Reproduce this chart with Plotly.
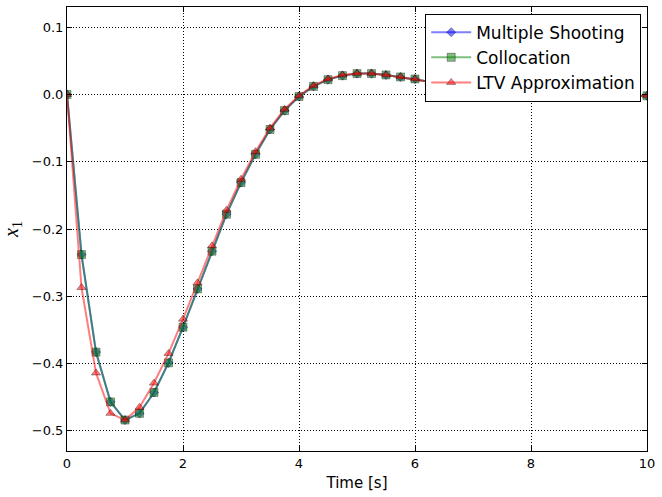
import plotly.graph_objects as go

time_s = [0.0, 0.25, 0.5, 0.75, 1.0, 1.25, 1.5, 1.75, 2.0, 2.25, 2.5, 2.75, 3.0, 3.25, 3.5, 3.75,
          4.0, 4.25, 4.5, 4.75, 5.0, 5.25, 5.5, 5.75, 6.0, 6.25, 6.5, 6.75, 7.0, 7.25, 7.5, 7.75,
          8.0, 8.25, 8.5, 8.75, 9.0, 9.25, 9.5, 9.75, 10.0]

multiple_shooting = [0.000, -0.238, -0.383, -0.457, -0.484, -0.474, -0.443, -0.399, -0.346, -0.289,
                     -0.233, -0.178, -0.131, -0.089, -0.052, -0.024, -0.003, 0.012, 0.022, 0.028,
                     0.031, 0.031, 0.029, 0.026, 0.023, 0.019, 0.015, 0.010, 0.006, 0.003,
                     0.001, -0.001, -0.002, -0.003, -0.003, -0.003, -0.003, -0.003, -0.002, -0.002,
                     -0.002]

collocation = [0.000, -0.238, -0.383, -0.457, -0.484, -0.474, -0.443, -0.399, -0.346, -0.289,
               -0.233, -0.178, -0.131, -0.089, -0.052, -0.024, -0.003, 0.012, 0.022, 0.028,
               0.031, 0.031, 0.029, 0.026, 0.023, 0.019, 0.015, 0.010, 0.006, 0.003,
               0.001, -0.001, -0.002, -0.003, -0.003, -0.003, -0.003, -0.003, -0.002, -0.002,
               -0.002]

ltv_approx = [0.000, -0.287, -0.414, -0.474, -0.484, -0.465, -0.429, -0.385, -0.334, -0.280,
              -0.225, -0.172, -0.126, -0.085, -0.050, -0.022, -0.002, 0.013, 0.023, 0.029,
              0.031, 0.031, 0.029, 0.026, 0.023, 0.019, 0.015, 0.010, 0.006, 0.003,
              0.001, -0.001, -0.002, -0.003, -0.003, -0.003, -0.003, -0.003, -0.002, -0.002,
              -0.002]

x_ticks = [0, 2, 4, 6, 8, 10]
y_ticks = [0.1, 0.0, -0.1, -0.2, -0.3, -0.4, -0.5]

series = [
    ("Multiple Shooting", multiple_shooting, "rgba(0,0,255,0.5)", "diamond", 7),
    ("Collocation", collocation, "rgba(0,128,0,0.5)", "square", 8),
    ("LTV Approximation", ltv_approx, "rgba(255,0,0,0.5)", "triangle-up", 8),
]

fig = go.Figure()
for name, vals, col, sym, size in series:
    fig.add_trace(go.Scatter(
        x=time_s, y=vals, name=name, mode="lines+markers",
        line=dict(color=col, width=2),
        marker=dict(symbol=sym, size=size, color=col,
                    line=dict(color="rgba(0,0,0,0.5)", width=0.7)),
    ))

axis_common = dict(
    showline=True, linecolor="black", linewidth=1, mirror="ticks",
    ticks="inside", ticklen=5, tickcolor="black", tickwidth=1,
    showgrid=True, gridcolor="black", griddash="1px,2px", gridwidth=1,
    zeroline=False,
    tickfont=dict(family="DejaVu Sans", size=13, color="black"),
)

fig.update_xaxes(range=[0, 10], tickvals=x_ticks, ticktext=[str(v) for v in x_ticks],
                 title=dict(text="Time [s]", font=dict(family="DejaVu Sans", size=15, color="black"),
                            standoff=7),
                 **axis_common)
fig.update_yaxes(range=[-0.53, 0.13], tickvals=y_ticks, tickformat=".1f",
                 title=dict(text="<i>x</i><sub>1</sub>",
                            font=dict(family="Liberation Serif", size=20, color="black"),
                            standoff=8),
                 **axis_common)

fig.update_layout(
    width=662, height=497,
    margin=dict(l=67, r=15, t=7, b=46),
    plot_bgcolor="white", paper_bgcolor="white",
    showlegend=True,
    legend=dict(x=0.99, y=0.985, xanchor="right", yanchor="top",
                bgcolor="white", bordercolor="black", borderwidth=1,
                font=dict(family="DejaVu Sans", size=17, color="black"),
                tracegroupgap=0, itemwidth=40),
)

fig.write_html("out.html")
